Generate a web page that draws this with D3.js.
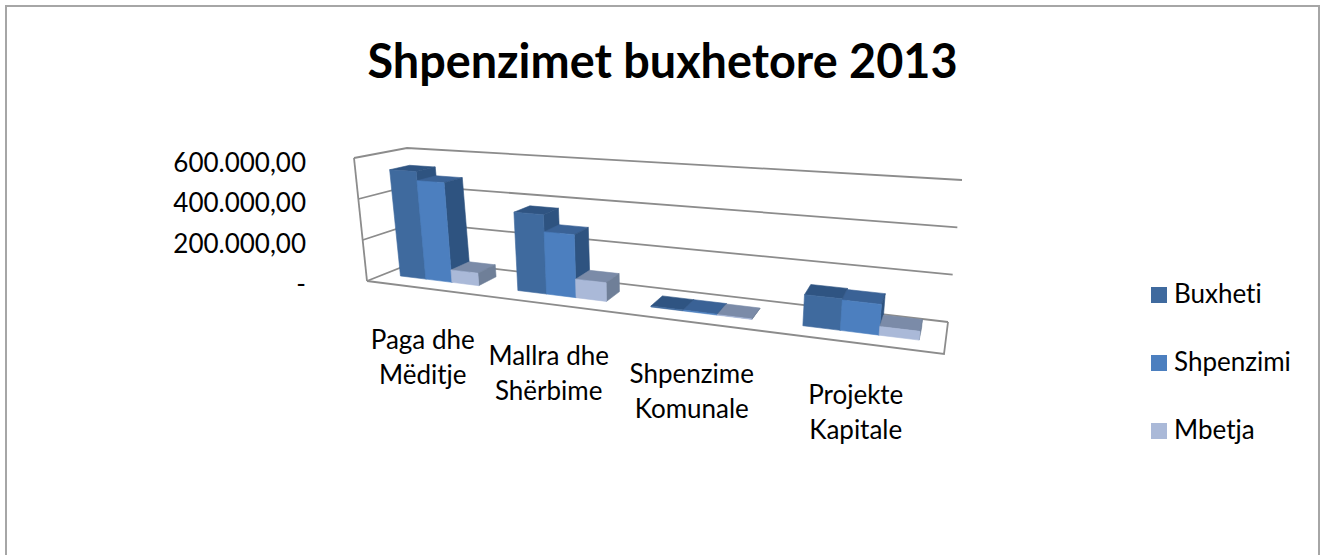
<!DOCTYPE html>
<html><head><meta charset="utf-8">
<script src="https://cdn.jsdelivr.net/npm/d3@7"></script>
<style>html,body{margin:0;padding:0;background:#fff}svg{display:block}text{font-family:Lato,Carlito,sans-serif;fill:#000;font-variant-ligatures:none}</style>
</head><body><svg id="c" width="1321" height="555"></svg>
<script>
const categories = [["Paga dhe","Mëditje"],["Mallra dhe","Shërbime"],["Shpenzime","Komunale"],["Projekte","Kapitale"]];
const seriesNames = ["Buxheti","Shpenzimi","Mbetja"];
const buxheti = [530000,370000,4000,130000];
const shpenzimi = [485000,290000,4000,125000];
const mbetja = [60000,85000,2000,35000];
const seriesValues = [buxheti,shpenzimi,mbetja];
const tickValues = [0,200000,400000,600000];
const tickLabels = ["-","200.000,00","400.000,00","600.000,00"];
const frontColors = ["#3f6a9e","#4c7fbf","#aab9d8"];
const topColors = ["#2f5482","#3a6296","#7b8ba8"];
const sideColors = ["#2e5380","#2e5380","#6f7f98"];

const svg = d3.select("#c");
// projected corners of the 3D box
const C = {
  fl0:[367,281], fl1:[354,158], bl0:[420,260], bl1:[407,148],
  fr0:[944,354], fr1:[959,198], br0:[948,322], br1:[962,180]
};
const uBand = d3.scaleBand().domain(d3.range(categories.length)).range([0,1]).paddingInner(0.32).paddingOuter(0.144);
const uSub = d3.scaleBand().domain(d3.range(seriesNames.length)).range([0,uBand.bandwidth()]);
const yVal = d3.scaleLinear().domain([0,600000]).range([0,1]);
const k = 1.3;
const warp = u => u/(k-(k-1)*u);
const lerp = (a,b,t)=>[a[0]+(b[0]-a[0])*t,a[1]+(b[1]-a[1])*t];
function P(u,d,h){
  const w = warp(u);
  const f = lerp(lerp(C.fl0,C.fr0,w),lerp(C.fl1,C.fr1,w),h);
  const b = lerp(lerp(C.bl0,C.br0,w),lerp(C.bl1,C.br1,w),h);
  return lerp(f,b,d);
}
const line = d3.line();
const poly = (pts,fill)=>svg.append("path").attr("d",line(pts)+"Z").attr("fill",fill).attr("stroke",fill).attr("stroke-width",0.6).attr("stroke-linejoin","round");
const gridStroke = "#8c8c8c";
const seg = pts=>svg.append("path").attr("d",line(pts)).attr("fill","none").attr("stroke",gridStroke).attr("stroke-width",1.8);

// chart frame
svg.append("path").attr("d",line([[6,555],[6,6],[1319,6],[1319,555]])).attr("fill","none").attr("stroke","#a6a6a6").attr("stroke-width",2);

// title
svg.append("text").attr("x",662.5).attr("y",78).attr("text-anchor","middle").attr("font-size",46.8).attr("font-weight",700).text("Shpenzimet buxhetore 2013");

// walls
const tickY = d3.scaleLinear().domain([0,600000]).range([284,163]);
tickValues.forEach((t,i)=>{
  const h = yVal(t);
  seg([P(0,0,h),P(0,1,h),P(1,1,h)]);
  svg.append("text").attr("x",306).attr("y",tickY(t)+9)
    .attr("text-anchor","end").attr("font-size",26).text(tickLabels[i]);
});
seg([P(0,0,0),P(0,0,1)]);
seg([P(0,0,0),P(1,0,0),P(1,1,0)]);

// bars
const d0=1/3,d1=0.72;
categories.forEach((cat,ci)=>{
  seriesNames.forEach((s,si)=>{
    const u0 = uBand(ci)+uSub(si), u1 = u0+uSub.bandwidth(), h = yVal(seriesValues[si][ci]);
    poly([P(u0,d0,h),P(u0,d1,h),P(u1,d1,h),P(u1,d0,h)],topColors[si]);
    poly([P(u1,d0,0),P(u1,d1,0),P(u1,d1,h),P(u1,d0,h)],sideColors[si]);
    poly([P(u0,d0,0),P(u1,d0,0),P(u1,d0,h),P(u0,d0,h)],frontColors[si]);
  });
  const p = P(uBand(ci)+uBand.bandwidth()/2,0,0);
  cat.forEach((t,li)=>{
    svg.append("text").attr("x",p[0]).attr("y",p[1]+61+li*35).attr("text-anchor","middle").attr("font-size",26).text(t);
  });
});

// legend
const legY = d3.scalePoint().domain(seriesNames).range([295,431]);
seriesNames.forEach((s,i)=>{
  svg.append("rect").attr("x",1151).attr("y",legY(s)-8).attr("width",16).attr("height",16).attr("fill",frontColors[i]);
  svg.append("text").attr("x",1174).attr("y",legY(s)+8).attr("font-size",26).text(s);
});
</script></body></html>
